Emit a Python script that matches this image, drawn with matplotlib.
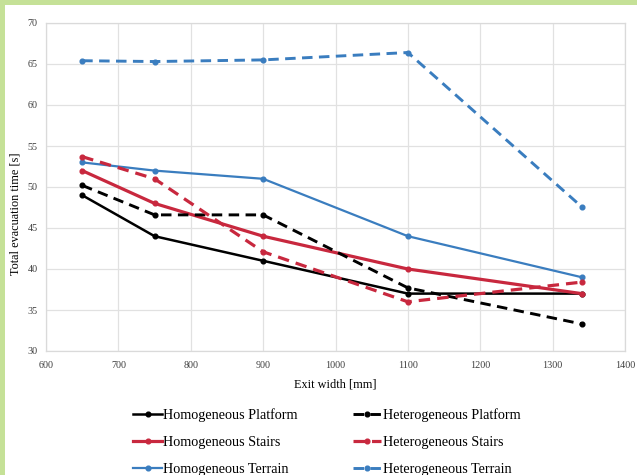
import numpy as np
import matplotlib
matplotlib.use("Agg")
import matplotlib.pyplot as plt
from matplotlib.patches import Rectangle

plt.rcParams['font.family'] = ['Liberation Serif', 'DejaVu Serif']

exit_width = [650, 750, 900, 1100, 1340]
hom_platform = [49.0, 44.0, 41.0, 37.0, 37.0]
het_platform = [50.2, 46.6, 46.6, 37.7, 33.3]
hom_stairs = [52.0, 48.0, 44.0, 40.0, 37.0]
het_stairs = [53.7, 51.0, 42.1, 36.0, 38.4]
hom_terrain = [53.0, 52.0, 51.0, 44.0, 39.0]
het_terrain = [65.4, 65.3, 65.5, 66.4, 47.6]

BLACK = "#000000"
RED = "#c8283e"
BLUE = "#3a7dbf"

fig = plt.figure(figsize=(6.37, 4.75), dpi=100)
fig.patch.set_facecolor("white")
# green frame on the left and top edges
fig.add_artist(Rectangle((0, 0), 5 / 637, 1, transform=fig.transFigure,
                         color="#c5e197", lw=0, zorder=-1))
fig.add_artist(Rectangle((0, 1 - 5 / 475), 1, 5 / 475, transform=fig.transFigure,
                         color="#c5e197", lw=0, zorder=-1))

ax = fig.add_axes([46 / 637, 1 - 351 / 475, 579 / 637, 328 / 475])

series = [
    (hom_platform, BLACK, "-", 1.8, "Homogeneous Platform"),
    (hom_stairs, RED, "-", 2.3, "Homogeneous Stairs"),
    (hom_terrain, BLUE, "-", 1.6, "Homogeneous Terrain"),
    (het_platform, BLACK, "--", 2.1, "Heterogeneous Platform"),
    (het_stairs, RED, "--", 2.3, "Heterogeneous Stairs"),
    (het_terrain, BLUE, "--", 2.1, "Heterogeneous Terrain"),
]

handles = []
for vals, col, ls, lw, name in series:
    dash = (0, (3.6, 2.2)) if ls == "--" else "-"
    ln, = ax.plot(exit_width, vals, color=col, lw=lw, linestyle=dash,
                  marker="o", ms=3.4, dash_capstyle="butt", zorder=3,
                  label=name)
    handles.append(ln)

ax.set_xlim(600, 1400)
ax.set_ylim(30, 70)
ax.set_xticks(np.arange(600, 1401, 100))
ax.set_yticks(np.arange(30, 71, 5))
ax.grid(True, color="#e1e1e1", lw=0.9)
ax.set_axisbelow(True)
for s in ax.spines.values():
    s.set_color("#dadada")
    s.set_linewidth(0.9)
ax.tick_params(length=0, labelsize=7.3, colors="#404040")
ax.tick_params(axis="x", pad=7)
ax.tick_params(axis="y", pad=6)
ax.set_xlabel("Exit width [mm]", fontsize=8.8, labelpad=6)
ax.set_ylabel("Total evacuation time [s]", fontsize=8.8)
ax.yaxis.set_label_coords(-0.042, 0.418)

fig.legend(handles=handles, ncol=2,
           loc="upper center", bbox_to_anchor=(0.513, 1 - 401 / 475),
           frameon=False, fontsize=10.2, handlelength=2.0, handletextpad=0.1,
           columnspacing=3.9, labelspacing=0.98, borderpad=0)

fig.savefig("out.png", dpi=100)
